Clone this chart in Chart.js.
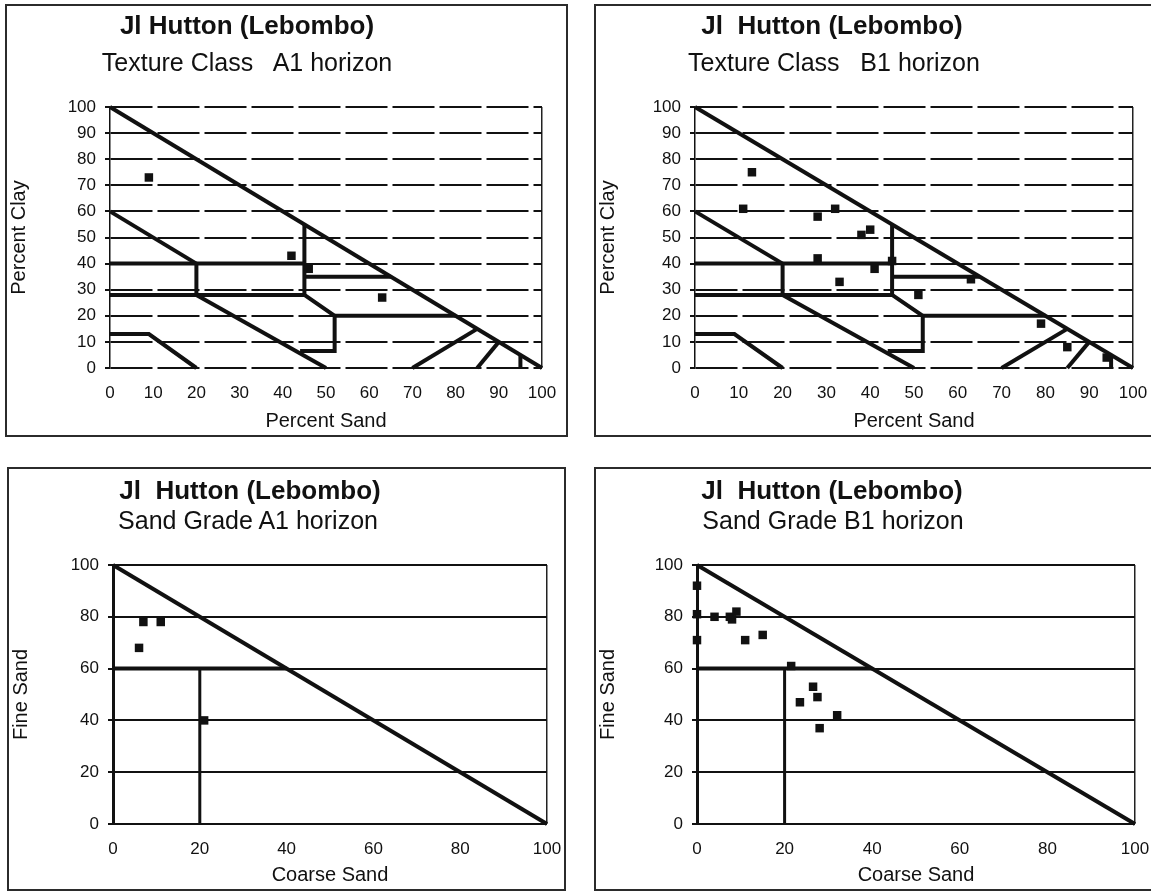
<!DOCTYPE html>
<html>
<head>
<meta charset="utf-8">
<title>Jl Hutton (Lebombo) - texture class and sand grade</title>
<script src="https://cdn.jsdelivr.net/npm/chart.js@4.4.1/dist/chart.umd.min.js"></script>
<style>
    body {
        margin: 0;
        width: 1151px;
        height: 892px;
        overflow: hidden;
        position: relative;
        background: #fff;
        font-family: "Liberation Sans", Arial, sans-serif;
    }
    .panel {
        position: absolute;
        border: 2px solid #2b2b2b;
        box-sizing: border-box;
        background: #fff;
    }
    .panel canvas {
        position: absolute;
        left: 0;
        top: 0;
    }
    .ttl {
        position: absolute;
        width: 500px;
        text-align: center;
        white-space: pre;
        color: #111;
        line-height: 1;
    }
    .ttl.main { font-weight: bold; font-size: 26px; }
    .ttl.sub { font-size: 25px; }
</style>
</head>
<body>
<script>
// ---- data ----

// axis ticks
const textureTicks = [0, 10, 20, 30, 40, 50, 60, 70, 80, 90, 100];
const gradeTicks = [0, 20, 40, 60, 80, 100];

// samples: [percent sand, percent clay]
const textureA1 = [[9, 73], [42, 43], [46, 38], [63, 27]];
const textureB1 = [
    [13, 75], [11, 61], [28, 58], [32, 61], [38, 51], [40, 53], [28, 42], [45, 41],
    [41, 38], [33, 33], [63, 34], [51, 28], [79, 17], [85, 8], [94, 4]
];

// samples: [coarse sand, fine sand]
const gradeA1 = [[7, 78], [11, 78], [6, 68], [21, 40]];
const gradeB1 = [
    [0, 92], [0, 81], [0, 71], [4, 80], [7.5, 80], [8, 79], [9, 82], [11, 71],
    [15, 73], [21.5, 61], [23.5, 47], [26.5, 53], [27.5, 49], [28, 37], [32, 42]
];

// texture class boundaries (percent sand, percent clay)
const texDiagonal = [[0, 100], [100, 0]];
const texClay = [[0, 60], [20, 40]];
const texClay40 = [[0, 40], [45, 40]];
const texSiltyClayLoam = [[20, 40], [20, 28]];
const texClay28 = [[0, 28], [45, 28]];
const texSandyClay = [[45, 55], [45, 28]];
const texClay35 = [[45, 35], [65, 35]];
const texLoam = [[45, 28], [52, 20], [52, 6.5], [44, 6.5]];
const texSiltLoam = [[20, 28], [50, 0]];
const texClay20 = [[52, 20], [80, 20]];
const texSilt = [[0, 13], [9, 13], [20, 0]];
const texLoamySand = [[70, 0], [85, 15]];
const texSand = [[85, 0], [90, 10]];
const texCoarse = [[95, 0], [95, 5]];

// sand grade boundaries (coarse sand, fine sand)
const gradeDiagonal = [[0, 100], [100, 0]];
const gradeFine60 = [[0, 60], [40, 60]];
const gradeCoarse20 = [[20, 60], [20, 0]];

const textureLines = [
    texDiagonal, texClay, texClay40, texSiltyClayLoam, texClay28, texSandyClay, texClay35,
    texLoam, texSiltLoam, texClay20, texSilt, texLoamySand, texSand, texCoarse
];
const gradeLines = [gradeDiagonal, gradeFine60, gradeCoarse20];

// ---- layout (page pixels) ----
const ink = '#111';
const FRAME = 2;

const panels = [
    {
        box: [5, 4, 563, 433], plot: [110, 542, 107, 368],
        title: 'Jl Hutton (Lebombo)', sub: 'Texture Class   A1 horizon',
        titleX: 247, titleY: 25, subX: 247, subY: 62,
        xTitle: 'Percent Sand', yTitle: 'Percent Clay',
        points: textureA1, lines: textureLines, ticks: textureTicks,
        gridDash: [42, 5], axisWidth: 1.5, lineWidths: [4]
    },
    {
        box: [594, 4, 562, 433], plot: [695, 1133, 107, 368],
        title: 'Jl  Hutton (Lebombo)', sub: 'Texture Class   B1 horizon',
        titleX: 832, titleY: 25, subX: 834, subY: 62,
        xTitle: 'Percent Sand', yTitle: 'Percent Clay',
        points: textureB1, lines: textureLines, ticks: textureTicks,
        gridDash: [42, 5], axisWidth: 1.5, lineWidths: [4]
    },
    {
        box: [7, 467, 559, 424], plot: [113, 547, 565, 824],
        title: 'Jl  Hutton (Lebombo)', sub: 'Sand Grade A1 horizon',
        titleX: 250, titleY: 490, subX: 248, subY: 520,
        xTitle: 'Coarse Sand', yTitle: 'Fine Sand',
        points: gradeA1, lines: gradeLines, ticks: gradeTicks,
        gridDash: [], axisWidth: 3, lineWidths: [4, 4, 3]
    },
    {
        box: [594, 467, 562, 424], plot: [697, 1135, 565, 824],
        title: 'Jl  Hutton (Lebombo)', sub: 'Sand Grade B1 horizon',
        titleX: 832, titleY: 490, subX: 833, subY: 520,
        xTitle: 'Coarse Sand', yTitle: 'Fine Sand',
        points: gradeB1, lines: gradeLines, ticks: gradeTicks,
        gridDash: [], axisWidth: 3, lineWidths: [4, 4, 3]
    }
];

function toXY(pairs) {
    return pairs.map(([x, y]) => ({ x: x, y: y }));
}

function addText(parent, text, cls, cx, cy, size) {
    const d = document.createElement('div');
    d.className = 'ttl ' + cls;
    d.textContent = text;
    d.style.left = (cx - 250) + 'px';
    d.style.top = (cy - size / 2) + 'px';
    parent.appendChild(d);
}

function makePanel(p) {
    const [bx, by, bw, bh] = p.box;
    const [pl, pr, pt, pb] = p.plot;
    const ox = bx + FRAME, oy = by + FRAME;
    const W = bw - 2 * FRAME, H = bh - 2 * FRAME;

    const el = document.createElement('div');
    el.className = 'panel';
    el.style.left = bx + 'px';
    el.style.top = by + 'px';
    el.style.width = bw + 'px';
    el.style.height = bh + 'px';
    document.body.appendChild(el);

    const canvas = document.createElement('canvas');
    canvas.width = W;
    canvas.height = H;
    canvas.style.width = W + 'px';
    canvas.style.height = H + 'px';
    el.appendChild(canvas);

    addText(el, p.title, 'main', p.titleX - ox, p.titleY - oy, 26);
    addText(el, p.sub, 'sub', p.subX - ox, p.subY - oy, 25);

    const yAxisWidth = pl - ox;
    const xAxisHeight = oy + H - pb;

    const datasets = [{
        data: toXY(p.points),
        pointStyle: 'rect',
        pointRadius: 6,
        backgroundColor: ink,
        borderWidth: 0,
        showLine: false,
        clip: false
    }];
    p.lines.forEach((line, i) => {
        datasets.push({
            data: toXY(line),
            showLine: true,
            borderColor: ink,
            borderWidth: p.lineWidths[i] || p.lineWidths[0],
            borderCapStyle: 'butt',
            borderJoinStyle: 'miter',
            pointRadius: 0,
            fill: false,
            tension: 0,
            clip: false
        });
    });

    const setTicks = scale => {
        scale.ticks = p.ticks.map(v => ({ value: v }));
    };

    new Chart(canvas, {
        type: 'scatter',
        data: { datasets: datasets },
        options: {
            responsive: false,
            animation: false,
            devicePixelRatio: 1,
            events: [],
            layout: {
                padding: { left: 0, top: pt - oy, right: ox + W - pr, bottom: 0 }
            },
            plugins: {
                legend: { display: false },
                tooltip: { enabled: false }
            },
            scales: {
                x: {
                    type: 'linear',
                    min: 0,
                    max: 100,
                    afterBuildTicks: setTicks,
                    afterFit: scale => { scale.height = xAxisHeight; },
                    ticks: {
                        font: { size: 17 },
                        color: ink,
                        padding: 0,
                        maxRotation: 0,
                        autoSkip: false
                    },
                    grid: {
                        color: c => (c.tick && c.tick.value === 100) ? '#222' : 'rgba(0,0,0,0)',
                        lineWidth: 1.5,
                        drawTicks: true,
                        tickLength: 15,
                        tickColor: 'rgba(0,0,0,0)'
                    },
                    border: { display: false },
                    title: {
                        display: true,
                        text: p.xTitle,
                        font: { size: 20 },
                        color: ink,
                        padding: { top: 0, bottom: 2 }
                    }
                },
                y: {
                    type: 'linear',
                    min: 0,
                    max: 100,
                    afterBuildTicks: setTicks,
                    afterFit: scale => { scale.width = yAxisWidth; },
                    ticks: {
                        font: { size: 17 },
                        color: ink,
                        padding: 9
                    },
                    grid: {
                        color: ink,
                        lineWidth: 2,
                        tickLength: 5,
                        tickColor: ink,
                        tickWidth: 2
                    },
                    border: {
                        display: true,
                        color: ink,
                        width: p.axisWidth,
                        dash: p.gridDash
                    },
                    title: {
                        display: true,
                        text: p.yTitle,
                        font: { size: 20 },
                        color: ink,
                        padding: { top: 0, bottom: 0 }
                    }
                }
            }
        }
    });
}

panels.forEach(makePanel);
</script>
</body>
</html>
